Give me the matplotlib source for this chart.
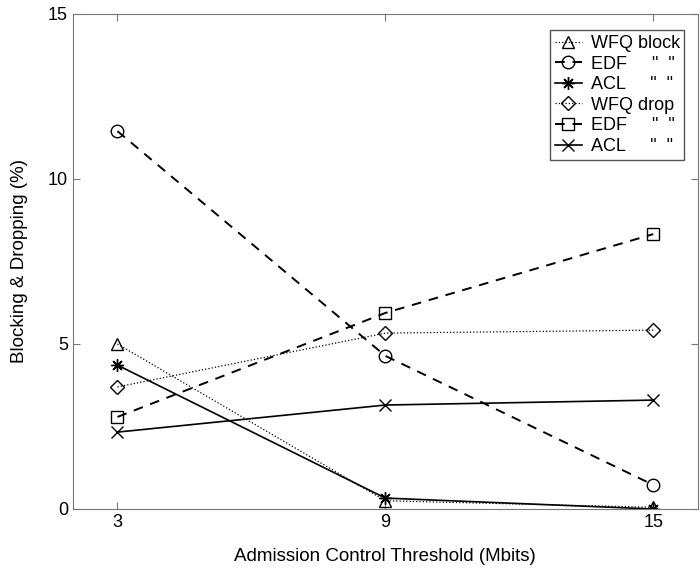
import matplotlib.pyplot as plt

plt.rcParams['font.family'] = ['Liberation Sans', 'DejaVu Sans']

thresholds = [3, 9, 15]
wfq_block = [5.0, 0.25, 0.05]
edf_block = [11.45, 4.64, 0.73]
acl_block = [4.36, 0.33, 0.0]
wfq_drop = [3.7, 5.33, 5.42]
edf_drop = [2.79, 5.94, 8.33]
acl_drop = [2.33, 3.15, 3.30]

labels = ['WFQ block', 'EDF     "  "', 'ACL     "  "', 'WFQ drop', 'EDF     "  "', 'ACL     "  "']

fig = plt.figure(figsize=(7, 5.71), dpi=100)
ax = fig.add_axes([0.104, 0.1086, 0.893, 0.8669])

mk = dict(color='black', markerfacecolor='none', markeredgecolor='black', markersize=9, markeredgewidth=1.0)
ax.plot(thresholds, wfq_block, linestyle=':', marker='^', linewidth=0.9, label=labels[0], **mk)
ax.plot(thresholds, edf_block, linestyle='--', dashes=(5, 4), marker='o', linewidth=1.4, label=labels[1], **mk)
ax.plot(thresholds, acl_block, linestyle='-', marker=(8, 2, 0), linewidth=1.2, label=labels[2], **mk)
ax.plot(thresholds, wfq_drop, linestyle=':', marker='D', linewidth=0.9, label=labels[3],
        color='black', markerfacecolor='none', markeredgecolor='black', markersize=7, markeredgewidth=1.0)
ax.plot(thresholds, edf_drop, linestyle='--', dashes=(5, 4), marker='s', linewidth=1.4, label=labels[4], **mk)
ax.plot(thresholds, acl_drop, linestyle='-', marker='x', linewidth=1.2, label=labels[5], **mk)

ax.set_xlim(2, 16)
ax.set_ylim(0, 15)
ax.set_xticks(thresholds)
ax.set_yticks([0, 5, 10, 15])
ax.tick_params(direction='in', top=True, right=True, labelsize=13, length=5, color='#777777')
for s in ax.spines.values():
    s.set_color('#777777')

ax.set_xlabel('Admission Control Threshold (Mbits)', fontsize=13.5, labelpad=12)
ax.set_ylabel('Blocking & Dropping (%)', fontsize=13.5, labelpad=14)

leg = ax.legend(loc='upper right', fontsize=13, handlelength=1.5, handletextpad=0.5,
                labelspacing=0.2, borderpad=0.25, fancybox=False, framealpha=1,
                bbox_to_anchor=(0.993, 0.985))
leg.get_frame().set_edgecolor('#555555')
leg.get_frame().set_linewidth(1.0)

fig.savefig('out.png', dpi=100)
